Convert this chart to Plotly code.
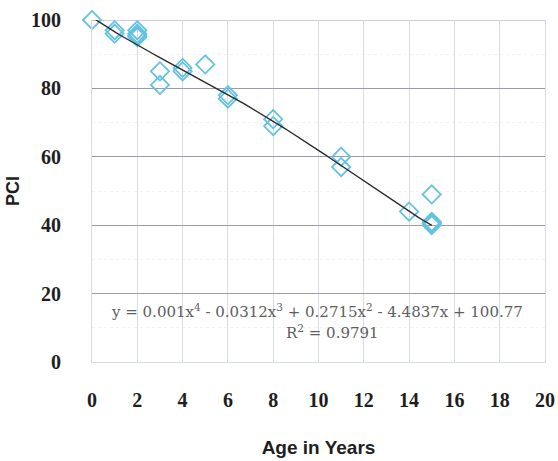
import numpy as np
import plotly.graph_objects as go

age = [0, 1, 1, 2, 2, 2, 2, 3, 3, 4, 4, 5, 6, 6, 8, 8, 11, 11, 14, 15, 15, 15, 15]
pci = [100, 96, 97, 95, 96, 97, 95.5, 85, 81, 85, 86, 87, 77, 78, 69, 71, 60, 57, 44, 49, 40, 41, 40.5]

coef = [0.001, -0.0312, 0.2715, -4.4837, 100.77]
eq_text = "y = 0.001x<sup>4</sup> - 0.0312x<sup>3</sup> + 0.2715x<sup>2</sup> - 4.4837x + 100.77"
r2_text = "R<sup>2</sup> = 0.9791"

x_ticks = [0, 2, 4, 6, 8, 10, 12, 14, 16, 18, 20]
y_ticks = [0, 20, 40, 60, 80, 100]

xt = np.linspace(0, 15, 100)
yt = np.polyval(coef, xt)

fig = go.Figure()
fig.add_trace(go.Scatter(x=age, y=pci, mode="markers", cliponaxis=False,
                         marker=dict(symbol="diamond-open", size=14, color="#64c2e2",
                                     line=dict(width=1.8, color="#64c2e2")),
                         showlegend=False))
fig.add_trace(go.Scatter(x=xt, y=yt, mode="lines", cliponaxis=False,
                         line=dict(color="#2a2a2a", width=1.4), showlegend=False))

fig.add_shape(type="line", xref="paper", yref="y", x0=0, x1=1, y0=100, y1=100,
              line=dict(color="#9a9ab8", width=1), layer="below")

fig.add_annotation(x=0.497, y=14.9, xref="paper", yref="y", text=eq_text, showarrow=False,
                   font=dict(family="DejaVu Serif", size=15, color="#5e5e5e"))
fig.add_annotation(x=0.53, y=8.7, xref="paper", yref="y", text=r2_text, showarrow=False,
                   font=dict(family="DejaVu Serif", size=15, color="#5e5e5e"))

fig.update_layout(
    width=558, height=461,
    margin=dict(l=92, r=13, t=20, b=99),
    plot_bgcolor="white", paper_bgcolor="white",
    xaxis=dict(range=[0, 20], tickvals=x_ticks, showgrid=True, gridcolor="#d6dde6",
               gridwidth=1, zeroline=False, showline=True, linecolor="#d6dde6",
               ticks="", ticklabelstandoff=20, automargin=False,
               tickfont=dict(family="Liberation Serif", size=20, color="#1e1e1e", weight="bold"),
               title=dict(text="Age in Years", standoff=30,
                          font=dict(family="Liberation Sans", size=19,
                                    color="#1e1e1e", weight="bold"))),
    yaxis=dict(range=[0, 100], tickvals=y_ticks, showgrid=True, gridcolor="#9a9ab8",
               gridwidth=1, zeroline=False, showline=True, mirror=True, linecolor="#d6dde6",
               ticks="", ticklabelstandoff=26, automargin=False,
               minor=dict(dtick=10, showgrid=True, gridcolor="#eef1f5", griddash="dot"),
               tickfont=dict(family="Liberation Serif", size=20, color="#1e1e1e", weight="bold"),
               title=dict(text="PCI", standoff=6,
                          font=dict(family="Liberation Sans", size=18, color="#1e1e1e",
                                    weight="bold"))),
)

fig.write_html("out.html")
